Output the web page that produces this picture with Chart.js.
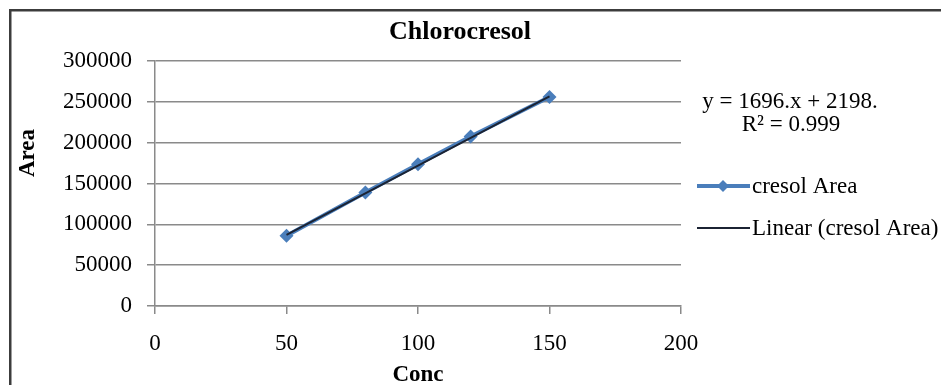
<!DOCTYPE html>
<html>
<head>
<meta charset="UTF-8">
<title>Chlorocresol</title>
<script src="https://cdn.jsdelivr.net/npm/chart.js@4.4.0/dist/chart.umd.min.js"></script>
<style>
*{margin:0;padding:0;box-sizing:border-box}
body{background:#fff;width:941px;height:385px;overflow:hidden}
#wrap{position:relative;width:941px;height:385px}
</style>
</head>
<body>
<div id="wrap"><canvas id="c" width="941" height="385"></canvas></div>
<script>
// values
const conc = [50, 80, 100, 120, 150];
const area = [86000, 139000, 173500, 207500, 256000];
const trendX = [50, 150];
const trendY = [87000, 256600];
const xTicks = [0, 50, 100, 150, 200];
const yTicks = [0, 50000, 100000, 150000, 200000, 250000, 300000];
const titleText = "Chlorocresol";
const eqLines = ["y = 1696.x + 2198.", "R\u00b2 = 0.999"];

const serif = "'Liberation Serif', 'Times New Roman', serif";
const blue = "#4a7ebb";
const gridCol = "#8a8a8a";

const decor = {
  id: "decor",
  afterDraw(chart) {
    const ctx = chart.ctx, a = chart.chartArea;
    ctx.save();
    // outer frame
    ctx.strokeStyle = "#3c3c3c";
    ctx.lineWidth = 2.5;
    ctx.strokeRect(10.25, 10.25, 1200, 1200);
    ctx.fillStyle = "#000";
    ctx.textBaseline = "middle";
    ctx.textAlign = "center";
    ctx.font = "bold 26px " + serif;
    ctx.fillText(titleText, 460, 32);
    ctx.font = "bold 23px " + serif;
    ctx.fillText("Conc", (a.left + a.right) / 2, 375);
    ctx.save();
    ctx.translate(28, 153);
    ctx.rotate(-Math.PI / 2);
    ctx.fillText("Area", 0, 0);
    ctx.restore();
    // trendline equation
    ctx.font = "23px " + serif;
    ctx.fillText(eqLines[0], 790, 102);
    ctx.fillText(eqLines[1], 791, 125);
    // legend
    const ds = chart.data.datasets;
    const rows = [ds[1], ds[0]];
    rows.forEach((d, i) => {
      const y = 186 + i * 42;
      ctx.strokeStyle = d.borderColor;
      ctx.lineWidth = d.borderWidth;
      ctx.beginPath();
      ctx.moveTo(697, y);
      ctx.lineTo(750, y);
      ctx.stroke();
      if (d.pointRadius) {
        ctx.fillStyle = d.pointBackgroundColor;
        ctx.beginPath();
        ctx.moveTo(723, y - 6);
        ctx.lineTo(729, y);
        ctx.lineTo(723, y + 6);
        ctx.lineTo(717, y);
        ctx.closePath();
        ctx.fill();
      }
      ctx.fillStyle = "#000";
      ctx.textAlign = "left";
      ctx.font = "23px " + serif;
      ctx.fillText(d.label, 752, y + 1);
    });
    ctx.restore();
  }
};

new Chart(document.getElementById("c"), {
  type: "scatter",
  data: {
    datasets: [
      {
        label: "Linear (cresol Area)",
        type: "line",
        data: trendX.map((x, i) => ({ x, y: trendY[i] })),
        borderColor: "#1b2333",
        borderWidth: 2,
        pointRadius: 0,
        fill: false,
        order: 0
      },
      {
        label: "cresol Area",
        type: "line",
        data: conc.map((x, i) => ({ x, y: area[i] })),
        borderColor: blue,
        borderWidth: 4,
        pointStyle: "rectRot",
        pointRadius: 7,
        pointBackgroundColor: blue,
        pointBorderColor: blue,
        pointBorderWidth: 0,
        fill: false,
        order: 1
      }
    ]
  },
  options: {
    responsive: false,
    animation: false,
    events: [],
    layout: { padding: { left: 0, top: 61, right: 260, bottom: 0 } },
    plugins: { legend: { display: false }, tooltip: { enabled: false }, title: { display: false } },
    scales: {
      x: {
        type: "linear",
        min: xTicks[0], max: xTicks[xTicks.length - 1],
        afterBuildTicks: s => { s.ticks = xTicks.map(v => ({ value: v })); },
        afterFit: s => { s.height = 79; },
        grid: { drawOnChartArea: false, color: gridCol, tickLength: 8, lineWidth: 1.5 },
        border: { color: gridCol, width: 1.5 },
        ticks: { color: "#000", font: { family: serif, size: 23 }, padding: 16, maxRotation: 0, callback: v => String(v) }
      },
      y: {
        type: "linear",
        min: yTicks[0], max: yTicks[yTicks.length - 1],
        afterBuildTicks: s => { s.ticks = yTicks.map(v => ({ value: v })); },
        afterFit: s => { s.width = 155; },
        grid: { color: gridCol, tickLength: 8, lineWidth: 1.5 },
        border: { color: gridCol, width: 1.5 },
        ticks: { color: "#000", font: { family: serif, size: 23 }, padding: 15, callback: v => String(v) }
      }
    }
  },
  plugins: [decor]
});
</script>
</body>
</html>
